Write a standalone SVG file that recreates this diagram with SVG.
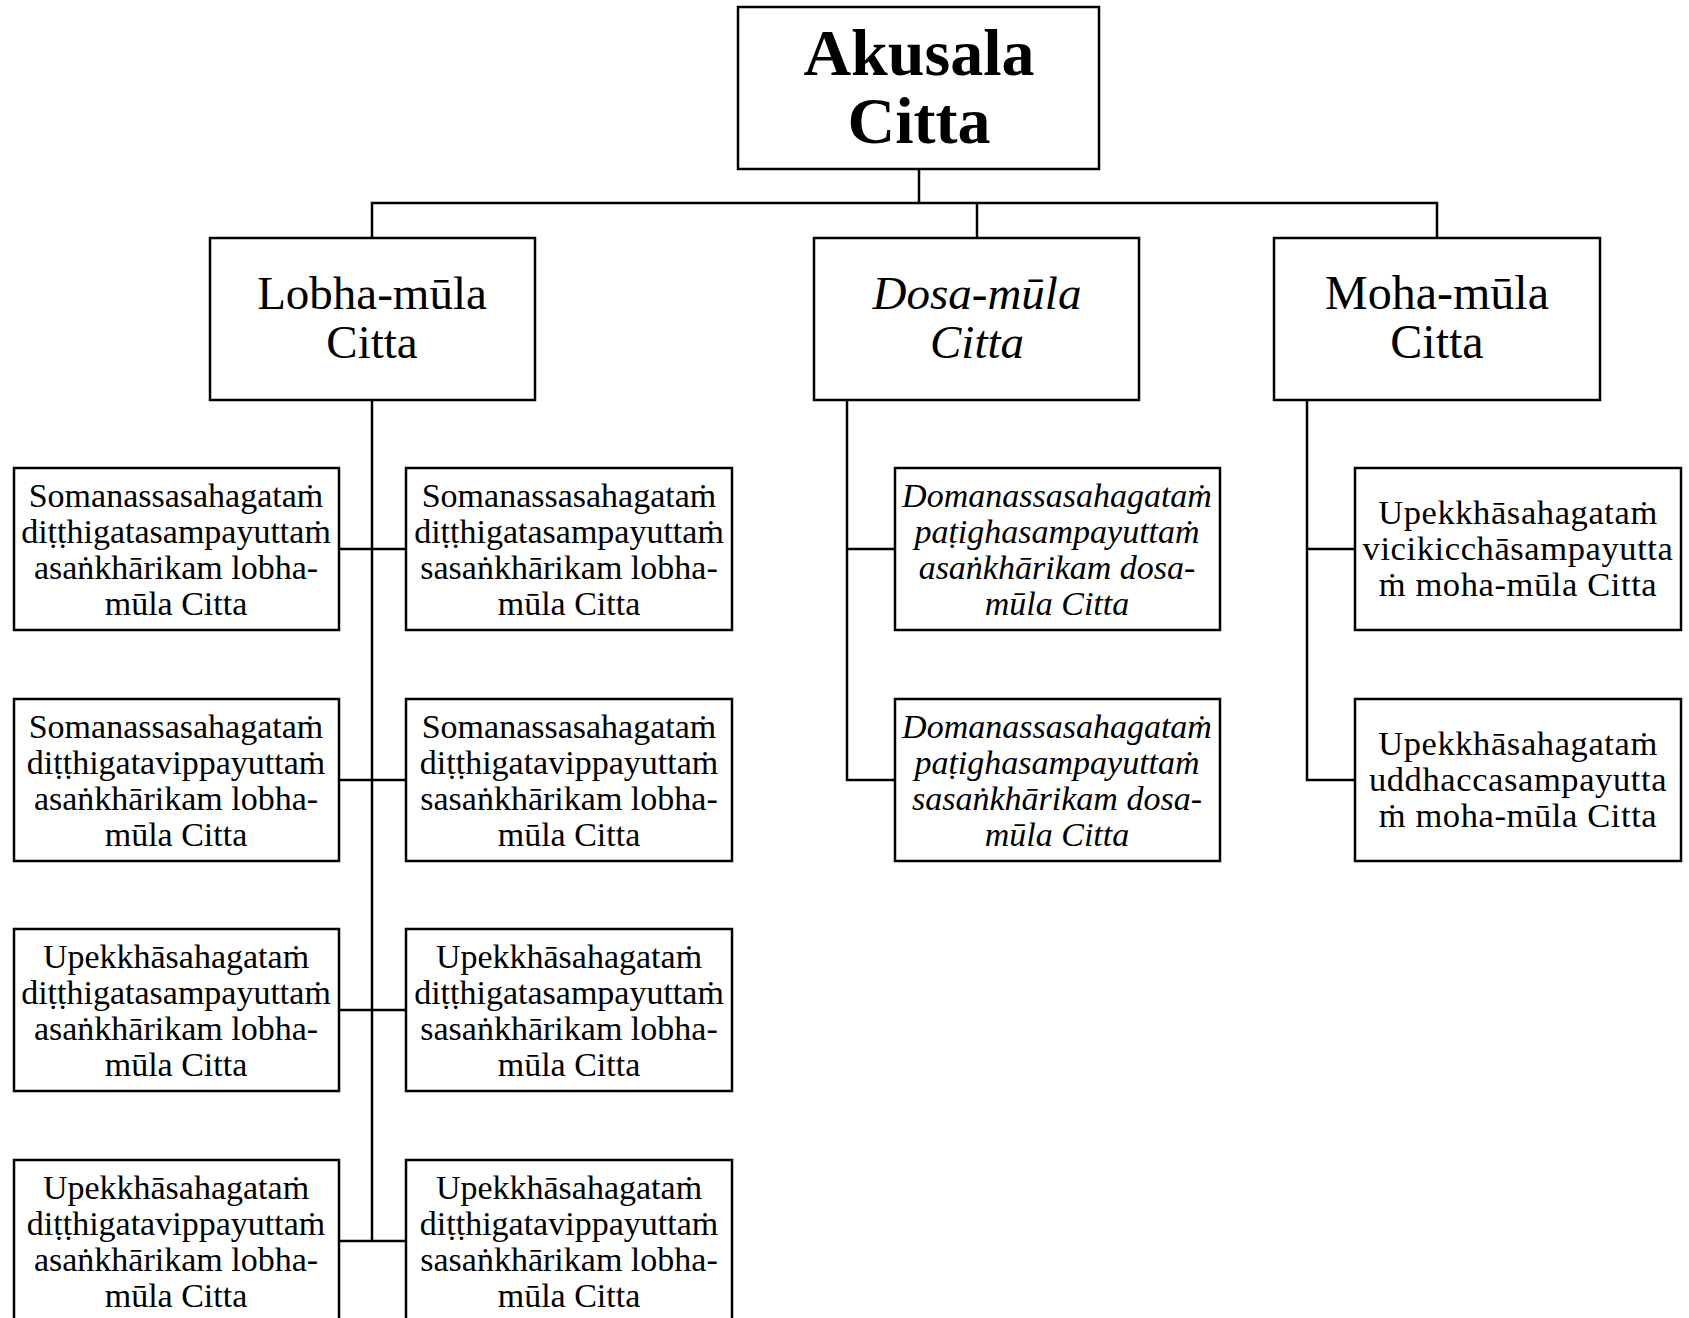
<svg xmlns="http://www.w3.org/2000/svg" width="1689" height="1318" viewBox="0 0 1689 1318">
  <style>
    .box { fill: #ffffff; stroke: #000000; stroke-width: 2.5; }
    .wire { fill: none; stroke: #000000; stroke-width: 2.5; }
    .t { font-family: "Liberation Serif", "Times New Roman", serif; fill: #000000; text-anchor: middle; }
    .root { font-size: 66px; font-weight: bold; }
    .mid { font-size: 47px; }
    .moha { font-size: 48px; }
    .leaf { font-size: 34px; }
    .leafm { font-size: 34.5px; letter-spacing: 0.6px; }
    .it { font-style: italic; }
  </style>

  <rect width="1689" height="1318" fill="#ffffff"/>

  <!-- connectors -->
  <g id="connectors">
    <polyline class="wire" points="919,169 919,203"/>
    <polyline class="wire" points="372,238 372,203 1437,203 1437,238"/>
    <polyline class="wire" points="977,203 977,238"/>
    <!-- lobha branch -->
    <polyline class="wire" points="372,400 372,1241"/>
    <polyline class="wire" points="339,549 406,549"/>
    <polyline class="wire" points="339,780 406,780"/>
    <polyline class="wire" points="339,1010 406,1010"/>
    <polyline class="wire" points="339,1241 406,1241"/>
    <!-- dosa branch -->
    <polyline class="wire" points="847,400 847,780 895,780"/>
    <polyline class="wire" points="847,549 895,549"/>
    <!-- moha branch -->
    <polyline class="wire" points="1307,400 1307,780 1355,780"/>
    <polyline class="wire" points="1307,549 1355,549"/>
  </g>

  <!-- root -->
  <g id="akusala">
    <rect class="box" x="738" y="7" width="361" height="162"/>
    <text class="t root" x="919" y="75">Akusala</text>
    <text class="t root" x="919" y="143">Citta</text>
  </g>

  <!-- second level -->
  <g id="lobha">
    <rect class="box" x="210" y="238" width="325" height="162"/>
    <text class="t mid" x="372" y="309">Lobha-mūla</text>
    <text class="t mid" x="372" y="358">Citta</text>
  </g>
  <g id="dosa">
    <rect class="box" x="814" y="238" width="325" height="162"/>
    <text class="t mid it" x="977" y="309">Dosa-mūla</text>
    <text class="t mid it" x="977" y="358">Citta</text>
  </g>
  <g id="moha">
    <rect class="box" x="1274" y="238" width="326" height="162"/>
    <text class="t moha" x="1437" y="309">Moha-mūla</text>
    <text class="t moha" x="1437" y="358">Citta</text>
  </g>

  <!-- lobha-mula leaves -->
  <g id="lobha-1">
    <rect class="box" x="14" y="468" width="325" height="162"/>
    <text class="t leaf" x="176" y="507">Somanassasahagataṁ</text>
    <text class="t leaf" x="176" y="543">diṭṭhigatasampayuttaṁ</text>
    <text class="t leaf" x="176" y="579">asaṅkhārikam lobha-</text>
    <text class="t leaf" x="176" y="615">mūla Citta</text>
  </g>
  <g id="lobha-2">
    <rect class="box" x="406" y="468" width="326" height="162"/>
    <text class="t leaf" x="569" y="507">Somanassasahagataṁ</text>
    <text class="t leaf" x="569" y="543">diṭṭhigatasampayuttaṁ</text>
    <text class="t leaf" x="569" y="579">sasaṅkhārikam lobha-</text>
    <text class="t leaf" x="569" y="615">mūla Citta</text>
  </g>
  <g id="lobha-3">
    <rect class="box" x="14" y="699" width="325" height="162"/>
    <text class="t leaf" x="176" y="738">Somanassasahagataṁ</text>
    <text class="t leaf" x="176" y="774">diṭṭhigatavippayuttaṁ</text>
    <text class="t leaf" x="176" y="810">asaṅkhārikam lobha-</text>
    <text class="t leaf" x="176" y="846">mūla Citta</text>
  </g>
  <g id="lobha-4">
    <rect class="box" x="406" y="699" width="326" height="162"/>
    <text class="t leaf" x="569" y="738">Somanassasahagataṁ</text>
    <text class="t leaf" x="569" y="774">diṭṭhigatavippayuttaṁ</text>
    <text class="t leaf" x="569" y="810">sasaṅkhārikam lobha-</text>
    <text class="t leaf" x="569" y="846">mūla Citta</text>
  </g>
  <g id="lobha-5">
    <rect class="box" x="14" y="929" width="325" height="162"/>
    <text class="t leaf" x="176" y="968">Upekkhāsahagataṁ</text>
    <text class="t leaf" x="176" y="1004">diṭṭhigatasampayuttaṁ</text>
    <text class="t leaf" x="176" y="1040">asaṅkhārikam lobha-</text>
    <text class="t leaf" x="176" y="1076">mūla Citta</text>
  </g>
  <g id="lobha-6">
    <rect class="box" x="406" y="929" width="326" height="162"/>
    <text class="t leaf" x="569" y="968">Upekkhāsahagataṁ</text>
    <text class="t leaf" x="569" y="1004">diṭṭhigatasampayuttaṁ</text>
    <text class="t leaf" x="569" y="1040">sasaṅkhārikam lobha-</text>
    <text class="t leaf" x="569" y="1076">mūla Citta</text>
  </g>
  <g id="lobha-7">
    <rect class="box" x="14" y="1160" width="325" height="162"/>
    <text class="t leaf" x="176" y="1199">Upekkhāsahagataṁ</text>
    <text class="t leaf" x="176" y="1235">diṭṭhigatavippayuttaṁ</text>
    <text class="t leaf" x="176" y="1271">asaṅkhārikam lobha-</text>
    <text class="t leaf" x="176" y="1307">mūla Citta</text>
  </g>
  <g id="lobha-8">
    <rect class="box" x="406" y="1160" width="326" height="162"/>
    <text class="t leaf" x="569" y="1199">Upekkhāsahagataṁ</text>
    <text class="t leaf" x="569" y="1235">diṭṭhigatavippayuttaṁ</text>
    <text class="t leaf" x="569" y="1271">sasaṅkhārikam lobha-</text>
    <text class="t leaf" x="569" y="1307">mūla Citta</text>
  </g>

  <!-- dosa-mula leaves -->
  <g id="dosa-1">
    <rect class="box" x="895" y="468" width="325" height="162"/>
    <text class="t leaf it" x="1057" y="507">Domanassasahagataṁ</text>
    <text class="t leaf it" x="1057" y="543">paṭighasampayuttaṁ</text>
    <text class="t leaf it" x="1057" y="579">asaṅkhārikam dosa-</text>
    <text class="t leaf it" x="1057" y="615">mūla Citta</text>
  </g>
  <g id="dosa-2">
    <rect class="box" x="895" y="699" width="325" height="162"/>
    <text class="t leaf it" x="1057" y="738">Domanassasahagataṁ</text>
    <text class="t leaf it" x="1057" y="774">paṭighasampayuttaṁ</text>
    <text class="t leaf it" x="1057" y="810">sasaṅkhārikam dosa-</text>
    <text class="t leaf it" x="1057" y="846">mūla Citta</text>
  </g>

  <!-- moha-mula leaves -->
  <g id="moha-1">
    <rect class="box" x="1355" y="468" width="326" height="162"/>
    <text class="t leafm" x="1518" y="524">Upekkhāsahagataṁ</text>
    <text class="t leafm" x="1518" y="560">vicikicchāsampayutta</text>
    <text class="t leafm" x="1518" y="596">ṁ moha-mūla Citta</text>
  </g>
  <g id="moha-2">
    <rect class="box" x="1355" y="699" width="326" height="162"/>
    <text class="t leafm" x="1518" y="755">Upekkhāsahagataṁ</text>
    <text class="t leafm" x="1518" y="791">uddhaccasampayutta</text>
    <text class="t leafm" x="1518" y="827">ṁ moha-mūla Citta</text>
  </g>
</svg>
